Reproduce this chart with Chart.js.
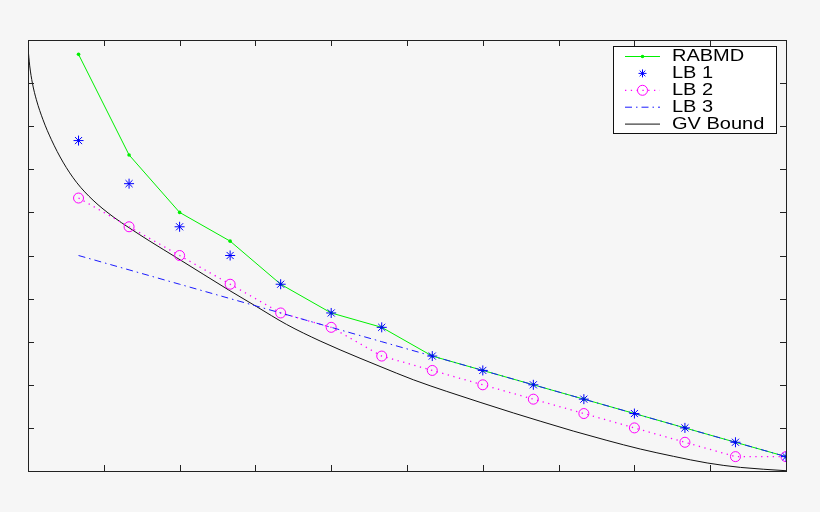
<!DOCTYPE html>
<html>
<head>
<meta charset="utf-8">
<script src="https://cdn.jsdelivr.net/npm/chart.js@4.4.1/dist/chart.umd.min.js"></script>
<style>
  html, body { margin: 0; padding: 0; background: #f6f6f6; }
  canvas { display: block; }
</style>
</head>
<body>
<canvas id="mycanvas" width="820" height="512"></canvas>
<script>
// values
var steps = [1, 2, 3, 4, 5, 6, 7, 8, 9, 10, 11, 12, 13, 14, 15];
var rabmd = [29, 22, 18, 16, 13, 11, 10, 8, 7, 6, 5, 4, 3, 2, 1];
var lb1 = [23, 20, 17, 15, 13, 11, 10, 8, 7, 6, 5, 4, 3, 2, 1];
var lb2 = [19, 17, 15, 13, 11, 10, 8, 7, 6, 5, 4, 3, 2, 1, 1];
var lb3 = [15, 14, 13, 12, 11, 10, 9, 8, 7, 6, 5, 4, 3, 2, 1];
var gvX = [0, 0.034, 0.087, 0.166, 0.297, 0.463, 0.693, 0.959, 1.287, 1.683, 2.014, 2.41, 2.94, 3.466,
	3.994, 4.52, 5.118, 5.78, 6.57, 6.966, 7.625, 8.287, 8.946, 9.606, 10.135, 10.79, 11.456, 12.116,
	12.775, 13.44, 14.1, 15];
var gvY = [29.44, 28.2, 27.0, 25.84, 24.45, 23.06, 21.5, 20.1, 18.85, 17.7, 16.9, 16.0, 14.85, 13.7,
	12.55, 11.45, 10.2, 9.05, 7.85, 7.28, 6.35, 5.54, 4.78, 4.04, 3.47, 2.78, 2.13, 1.53,
	1.02, 0.56, 0.25, 0.02];
var labels = ['RABMD', 'LB 1', 'LB 2', 'LB 3', 'GV Bound'];

function pts(xv, yv) {
	var out = [];
	for (var i in xv) {
		out.push({x: xv[i], y: yv[i]});
	}
	return out;
}

var chardata = {
	datasets: [
	{
		label: labels[0],
		data: pts(steps, rabmd),
		showLine: true,
		borderColor: '#00f000',
		backgroundColor: '#00f000',
		borderWidth: 1,
		pointStyle: 'circle',
		pointRadius: 1.8,
		pointBorderWidth: 0,
		order: 5
	},
	{
		label: labels[1],
		data: pts(steps, lb1),
		showLine: false,
		borderColor: '#0000ff',
		backgroundColor: '#0000ff',
		pointStyle: 'star',
		pointRadius: 5,
		pointBorderWidth: 1,
		order: 1
	},
	{
		label: labels[2],
		data: pts(steps, lb2),
		showLine: true,
		borderColor: '#ff00ff',
		backgroundColor: 'rgba(0,0,0,0)',
		borderWidth: 1.3,
		borderDash: [1.3, 4.5],
		pointStyle: 'circle',
		pointRadius: 5,
		pointBorderWidth: 1,
		order: 3
	},
	{
		label: labels[3],
		data: pts(steps, lb3),
		showLine: true,
		borderColor: '#1a1aff',
		backgroundColor: '#1a1aff',
		borderWidth: 1,
		borderDash: [7, 4, 1.5, 4],
		pointRadius: 0,
		order: 2
	},
	{
		label: labels[4],
		data: pts(gvX, gvY),
		showLine: true,
		borderColor: '#111111',
		borderWidth: 1,
		pointRadius: 0,
		cubicInterpolationMode: 'monotone',
		order: 4
	}
	]
};

// background
var bgPlugin = {
	id: 'bg',
	beforeDraw: function(chart) {
		var ctx = chart.ctx;
		ctx.save();
		ctx.fillStyle = '#f6f6f6';
		ctx.fillRect(0, 0, chart.width, chart.height);
		ctx.restore();
	}
};

// matlab style box with inward ticks
var boxPlugin = {
	id: 'box',
	afterDatasetsDraw: function(chart) {
		var ctx = chart.ctx;
		var a = chart.chartArea;
		var x = chart.scales.x, y = chart.scales.y;
		var len = 6;
		ctx.save();
		ctx.strokeStyle = '#222';
		ctx.lineWidth = 1;
		ctx.strokeRect(Math.round(a.left) + 0.5, Math.round(a.top) + 0.5,
			Math.round(a.right - a.left), Math.round(a.bottom - a.top));
		ctx.beginPath();
		x.ticks.forEach(function(t) {
			var px = Math.round(x.getPixelForValue(t.value)) + 0.5;
			ctx.moveTo(px, a.bottom); ctx.lineTo(px, a.bottom - len);
			ctx.moveTo(px, a.top); ctx.lineTo(px, a.top + len);
		});
		y.ticks.forEach(function(t) {
			var py = Math.round(y.getPixelForValue(t.value)) + 0.5;
			ctx.moveTo(a.left, py); ctx.lineTo(a.left + len, py);
			ctx.moveTo(a.right, py); ctx.lineTo(a.right - len, py);
		});
		ctx.stroke();
		ctx.restore();
	}
};

function marker(ctx, style, r, cx, cy, color) {
	ctx.save();
	ctx.strokeStyle = color;
	ctx.fillStyle = color;
	ctx.lineWidth = 1;
	ctx.setLineDash([]);
	ctx.beginPath();
	if (style == 'star') {
		var d = r * Math.SQRT1_2;
		ctx.moveTo(cx - r, cy); ctx.lineTo(cx + r, cy);
		ctx.moveTo(cx, cy - r); ctx.lineTo(cx, cy + r);
		ctx.moveTo(cx - d, cy - d); ctx.lineTo(cx + d, cy + d);
		ctx.moveTo(cx - d, cy + d); ctx.lineTo(cx + d, cy - d);
		ctx.stroke();
	} else if (style == 'ring') {
		ctx.arc(cx, cy, r, 0, Math.PI * 2);
		ctx.stroke();
	} else {
		ctx.arc(cx, cy, r, 0, Math.PI * 2);
		ctx.fill();
	}
	ctx.restore();
}

// legend box drawn by hand
var legendPlugin = {
	id: 'mlegend',
	afterDraw: function(chart) {
		var ctx = chart.ctx;
		var L = 613.5, T = 46.5, W = 163, H = 87;
		ctx.save();
		ctx.fillStyle = '#ffffff';
		ctx.fillRect(L, T, W, H);
		ctx.strokeStyle = '#111';
		ctx.lineWidth = 1;
		ctx.strokeRect(L, T, W, H);
		var sets = chart.data.datasets;
		var kinds = ['dot', 'star', 'ring', null, null];
		for (var i = 0; i < sets.length; i++) {
			var ds = sets[i];
			var cy = 56.5 + i * 16.9;
			if (ds.showLine) {
				ctx.save();
				ctx.strokeStyle = ds.borderColor;
				ctx.lineWidth = ds.borderWidth || 1;
				ctx.setLineDash(ds.borderDash || []);
				ctx.beginPath();
				ctx.moveTo(625, cy); ctx.lineTo(660, cy);
				ctx.stroke();
				ctx.restore();
			}
			if (kinds[i]) {
				marker(ctx, kinds[i], i == 0 ? 1.8 : (i == 1 ? 4 : 5), 642.5, cy, ds.borderColor);
			}
			ctx.save();
			ctx.translate(672, cy + 0.5);
			ctx.scale(1.25, 1);
			ctx.fillStyle = '#000';
			ctx.font = '16px "Liberation Sans", Arial, sans-serif';
			ctx.textBaseline = 'middle';
			ctx.fillText(ds.label, 0, 0);
			ctx.restore();
		}
		ctx.restore();
	}
};

var ctx = document.getElementById('mycanvas');

var LineGraph = new Chart(ctx, {
	type: 'scatter',
	data: chardata,
	options: {
		responsive: false,
		animation: false,
		devicePixelRatio: 1,
		layout: { padding: { left: 28, top: 40, right: 34, bottom: 41 } },
		plugins: {
			legend: { display: false },
			tooltip: { enabled: false }
		},
		scales: {
			x: {
				type: 'linear',
				min: 0,
				max: 15,
				ticks: { display: false, stepSize: 1.5 },
				grid: { display: false, drawTicks: false },
				border: { display: false }
			},
			y: {
				type: 'linear',
				min: 0,
				max: 30,
				ticks: { display: false, stepSize: 3 },
				grid: { display: false, drawTicks: false },
				border: { display: false }
			}
		}
	},
	plugins: [bgPlugin, boxPlugin, legendPlugin]
});
</script>
</body>
</html>
